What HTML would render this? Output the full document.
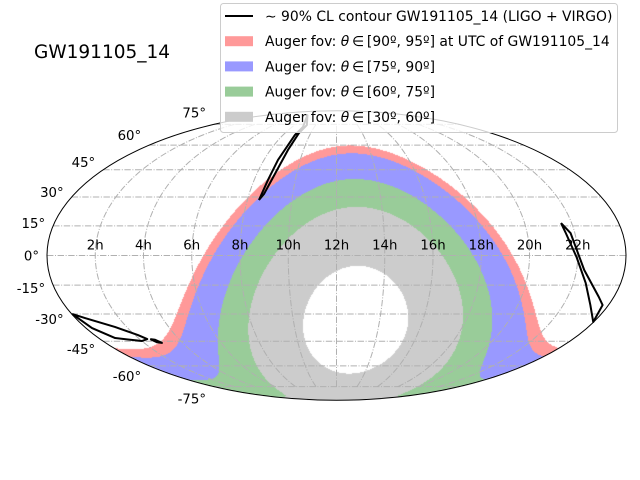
<!DOCTYPE html>
<html><head><meta charset="utf-8">
<style>
html,body{margin:0;padding:0;background:#fff;}
#wrap{position:relative;width:640px;height:480px;overflow:hidden;font-family:"DejaVu Sans","Liberation Sans",sans-serif;}
canvas,svg{position:absolute;left:0;top:0;}
svg text{font-family:"DejaVu Sans","Liberation Sans",sans-serif;}
</style></head>
<body>
<div id="wrap">
<canvas id="cv" width="640" height="480"></canvas>
<svg id="sv" width="640" height="480" xmlns="http://www.w3.org/2000/svg"></svg>
</div>
<script>
// ---- data ----
const siteDec = -35.2;          // Auger zenith declination (deg)
const zenithRA = 193.4;         // local sidereal RA of zenith at event UTC (deg)
const bandEdges = [30, 60, 75, 90, 95];   // zenith-angle band limits (deg)
const bandColors = ["#cccccc", "#99cc99", "#9999ff", "#ff9999"];
const raTicks = [2,4,6,8,10,12,14,16,18,20,22];
const raTickLabels = ["2h","4h","6h","8h","10h","12h","14h","16h","18h","20h","22h"];
const decTicks = [-75,-60,-45,-30,-15,0,15,30,45,60,75];
const decTickLabels = ["-75°","-60°","-45°","-30°","-15°","0°","15°","30°","45°","60°","75°"];
const contourNorth = [[8.52,28.4],[8.67,39.2],[8.77,50.8],[8.89,66.9],[8.98,72.9],[7.1,83.5],[9.17,74.4],[9.08,68.3],[9.06,56.9],[8.93,43.8],[8.68,31.6],[8.52,28.4]];
const contourEast = [[21.55,16.46],[21.82,11.36],[22.32,-7.32],[23.35,-21.1],[23.74,-25.3],[23.98,-34.3],[23.2,-25.3],[22.52,-13.9],[21.95,-0.76],[21.62,11.36],[21.55,16.46]];
const contourSouth = [[0.02,-30.0],[0.44,-32.2],[1.44,-37.0],[2.15,-41.5],[2.39,-43.8],[2.0,-44.9],[0.83,-43.2],[0.29,-37.6],[0.02,-30.0]];
const contourSouthBlob = [[2.54,-43.8],[2.75,-44.2],[2.92,-46.0],[2.7,-45.6],[2.54,-43.8]];

// ---- projection ----
const cx=336.5, cy=255.5, A=289.5, B=144.75;
function theta(decDeg){
  const p=decDeg*Math.PI/180;
  if(Math.abs(decDeg)>=89.999) return Math.sign(decDeg)*Math.PI/2;
  let t=p;
  for(let i=0;i<50;i++){const f=2*t+Math.sin(2*t)-Math.PI*Math.sin(p);const d=2+2*Math.cos(2*t);if(d<1e-9)break;t-=f/d;}
  return t;
}
function proj(raH,dec){
  const lam=(raH*15-180)*Math.PI/180;
  const t=theta(dec);
  return [cx+A*lam/Math.PI*Math.cos(t), cy-B*Math.sin(t)];
}

// ---- raster bands ----
(function(){
  const cv=document.getElementById('cv');const ctx=cv.getContext('2d');
  const img=ctx.createImageData(640,480);
  const d0=siteDec*Math.PI/180, sd0=Math.sin(d0), cd0=Math.cos(d0);
  const cols=bandColors.map(c=>[parseInt(c.substr(1,2),16),parseInt(c.substr(3,2),16),parseInt(c.substr(5,2),16)]);
  for(let py=0;py<480;py++){
    const s=(cy-(py+0.5))/B; if(Math.abs(s)>=1) continue;
    const t=Math.asin(s), ct=Math.cos(t);
    const phi=Math.asin(Math.max(-1,Math.min(1,(2*t+Math.sin(2*t))/Math.PI)));
    const sp=Math.sin(phi), cp=Math.cos(phi);
    for(let px=0;px<640;px++){
      const u=((px+0.5)-cx)/(A*ct); if(Math.abs(u)>1) continue;
      const ra=(u*Math.PI+Math.PI);
      const cz=sp*sd0+cp*cd0*Math.cos(ra-zenithRA*Math.PI/180);
      const z=Math.acos(Math.max(-1,Math.min(1,cz)))*180/Math.PI;
      for(let k=0;k<bandColors.length;k++){
        if(z>=bandEdges[k]&&z<bandEdges[k+1]){
          const i=(py*640+px)*4;img.data[i]=cols[k][0];img.data[i+1]=cols[k][1];img.data[i+2]=cols[k][2];img.data[i+3]=255;break;
        }
      }
    }
  }
  ctx.putImageData(img,0,0);
})();

// ---- SVG ----
const NS="http://www.w3.org/2000/svg";
const sv=document.getElementById('sv');
function mk(tag,attrs,parent){const e=document.createElementNS(NS,tag);for(const k in attrs)e.setAttribute(k,attrs[k]);(parent||sv).appendChild(e);return e;}
function pathFrom(pts){return pts.map((p,i)=>(i?'L':'M')+p[0].toFixed(2)+' '+p[1].toFixed(2)).join(' ');}

// gridlines
const grid=mk('g',{});


decTicks.forEach(dec=>{
  const pts=[];for(let r=0;r<=24.0001;r+=0.1)pts.push(proj(r,dec));
  const p=mk('path',{d:pathFrom(pts),fill:'none',stroke:'#b0b0b0','stroke-width':1,'stroke-dasharray':'6.4,1.6,1,1.6'},grid);
  
  
});
raTicks.forEach(ra=>{
  const pts=[];for(let dec=-75;dec<=75.001;dec+=1)pts.push(proj(ra,dec));
  const p=mk('path',{d:pathFrom(pts),fill:'none',stroke:'#b0b0b0','stroke-width':1,'stroke-dasharray':'6.4,1.6,1,1.6'},grid);
  
  
});
// outline
const outline=mk('ellipse',{cx:cx,cy:cy,rx:A,ry:B,fill:'none',stroke:'#000','stroke-width':1});



// contours
[contourNorth,contourEast,contourSouth,contourSouthBlob].forEach(c=>{
  const p=mk('path',{d:pathFrom(c.map(q=>proj(q[0],q[1]))),fill:'none',stroke:'#000','stroke-width':2,'stroke-linejoin':'round'});
  
  
});

// RA tick labels
raTicks.forEach((ra,i)=>{
  const q=proj(ra,0);
  const t=mk('text',{x:q[0],y:q[1]-6,'font-size':13.3,'text-anchor':'middle',fill:'#000'});
  t.textContent=raTickLabels[i];
  
  
});
// Dec tick labels
decTicks.forEach((dec,i)=>{
  const q=proj(0,dec);
  const st=Math.sin(theta(dec));
  const t=mk('text',{x:q[0]-8,y:q[1]-13*st+5,'font-size':13.3,'text-anchor':'end',fill:'#000'});
  t.textContent=decTickLabels[i];
  
  
});

// title
const title=mk('text',{x:34,y:58,'font-size':18.5,fill:'#000'});
title.textContent='GW191105_14';



// legend
const lg=mk('g',{});


mk('rect',{x:220.5,y:3.5,width:397,height:129,rx:3,fill:'rgba(255,255,255,0.8)',stroke:'#cccccc','stroke-width':1},lg);
const legendLabels=[
  '\u223C 90% CL contour GW191105_14 (LIGO + VIRGO)',
  'Auger fov: <tspan font-style="italic">θ</tspan>\u2009∈\u2009[90º, 95º] at UTC of GW191105_14',
  'Auger fov: <tspan font-style="italic">θ</tspan>\u2009∈\u2009[75º, 90º]',
  'Auger fov: <tspan font-style="italic">θ</tspan>\u2009∈\u2009[60º, 75º]',
  'Auger fov: <tspan font-style="italic">θ</tspan>\u2009∈\u2009[30º, 60º]'
];
const legendSwatches=[null,"#ff9999","#9999ff","#99cc99","#cccccc"];
legendLabels.forEach((lab,i)=>{
  const y=16+i*25.2;
  const g=mk('g',{},lg);
  
  
  if(legendSwatches[i]===null){mk('line',{x1:225,y1:y,x2:253,y2:y,stroke:'#000','stroke-width':2},g);}
  else{mk('rect',{x:225,y:y-5,width:28,height:10,fill:legendSwatches[i]},g);}
  const t=mk('text',{x:265,y:y+5,'font-size':13.9,fill:'#000'},g);
  t.innerHTML=lab;
});
</script>
</body></html>
